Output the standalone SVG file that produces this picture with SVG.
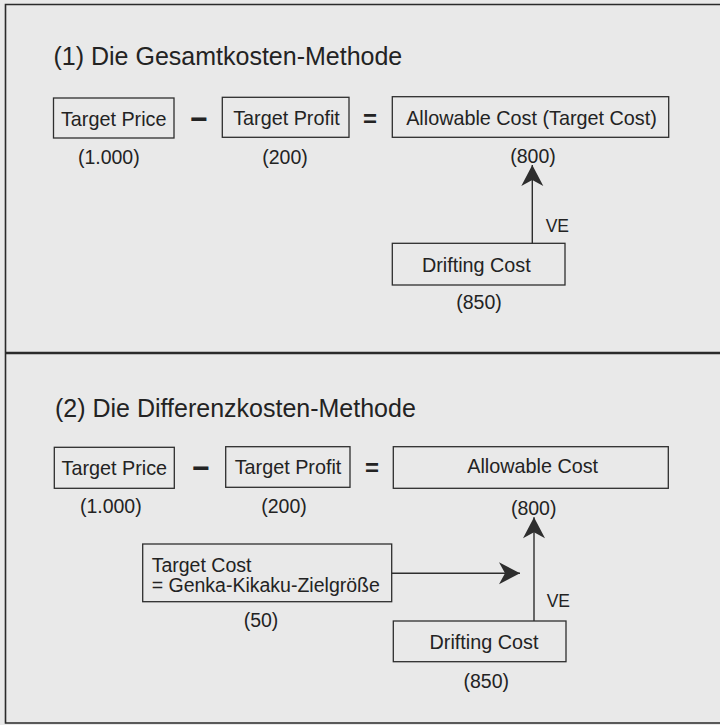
<svg xmlns="http://www.w3.org/2000/svg" width="720" height="725" viewBox="0 0 720 725">
<style>
  .bg { fill: #e9e9e9; }
  .frame { fill: none; stroke: #2a2a2a; stroke-width: 1.6; }
  .box { fill: none; stroke: #2e2e2e; stroke-width: 1.3; }
  .t { font-family: "Liberation Sans", Arial, sans-serif; fill: #232323; }
  .title { font-size: 25px; }
  .lbl { font-size: 19.8px; text-anchor: middle; }
  .lbl2 { font-size: 19.5px; }
  .num { font-size: 19.5px; text-anchor: middle; }
  .op { font-size: 24px; text-anchor: middle; font-weight: bold; }
  .minus { font-size: 30px; text-anchor: middle; font-weight: bold; }
  .ve { font-size: 17.5px; }
  .conn { fill: none; stroke: #2e2e2e; stroke-width: 1.4; }
</style>
<defs>
  <marker id="arrow" markerUnits="userSpaceOnUse" markerWidth="24" markerHeight="26" viewBox="-22 -13 24 26" refX="0" refY="0" orient="auto">
    <path d="M0,0 L-21,-11 L-15,0 L-21,11 Z" fill="#2e2e2e"/>
  </marker>
</defs>
<rect class="bg" x="0" y="0" width="720" height="725"/>
<g id="frame">
  <path class="frame" d="M724,4.5 H5.5 V723 H724"/>
  <line x1="5.5" y1="353" x2="724" y2="353" stroke="#2a2a2a" stroke-width="2.5"/>
</g>

<!-- Panel 1 -->
<g id="title1"><text class="t title" x="53.5" y="65">(1) Die Gesamtkosten-Methode</text></g>
<g id="p1-target-price">
  <rect class="box" x="53.5" y="98" width="120.5" height="40"/>
  <text class="t lbl" x="113.7" y="125.5">Target Price</text>
  <text class="t num" x="108.8" y="164">(1.000)</text>
</g>
<g id="p1-minus"><text class="t minus" x="199" y="129">−</text></g>
<g id="p1-target-profit">
  <rect class="box" x="222.3" y="97.3" width="126.7" height="40"/>
  <text class="t lbl" x="286.5" y="125">Target Profit</text>
  <text class="t num" x="285" y="164">(200)</text>
</g>
<g id="p1-equals"><text class="t op" x="370" y="126.5">=</text></g>
<g id="p1-allowable">
  <rect class="box" x="392.3" y="96.7" width="276.4" height="40.6"/>
  <text class="t lbl" x="531.5" y="125">Allowable Cost (Target Cost)</text>
  <text class="t num" x="533" y="163">(800)</text>
</g>
<g id="p1-drifting">
  <rect class="box" x="392.3" y="243.3" width="172.7" height="41.7"/>
  <text class="t lbl" x="476.3" y="271.5">Drifting Cost</text>
  <text class="t num" x="479" y="309">(850)</text>
</g>

<!-- Panel 2 -->
<g id="title2"><text class="t title" x="55" y="417">(2) Die Differenzkosten-Methode</text></g>
<g id="p2-target-price">
  <rect class="box" x="54.3" y="447.3" width="120" height="41"/>
  <text class="t lbl" x="114.3" y="475">Target Price</text>
  <text class="t num" x="110.8" y="513">(1.000)</text>
</g>
<g id="p2-minus"><text class="t minus" x="201" y="477.5">−</text></g>
<g id="p2-target-profit">
  <rect class="box" x="225.7" y="446.7" width="124.3" height="40.6"/>
  <text class="t lbl" x="288" y="474">Target Profit</text>
  <text class="t num" x="284" y="513">(200)</text>
</g>
<g id="p2-equals"><text class="t op" x="372" y="476">=</text></g>
<g id="p2-allowable">
  <rect class="box" x="393.3" y="446.7" width="275" height="41.6"/>
  <text class="t lbl" x="532.7" y="473.3">Allowable Cost</text>
  <text class="t num" x="533.7" y="515">(800)</text>
</g>
<g id="p2-target-cost">
  <rect class="box" x="142.7" y="544" width="249" height="57.7"/>
  <text class="t lbl2" x="151.7" y="571.7">Target Cost</text>
  <text class="t lbl2" x="151.7" y="592.3">= Genka-Kikaku-Zielgröße</text>
  <text class="t num" x="261" y="627">(50)</text>
</g>
<g id="p2-drifting">
  <rect class="box" x="393.3" y="621" width="172.7" height="40.7"/>
  <text class="t lbl" x="484" y="649">Drifting Cost</text>
  <text class="t num" x="486.3" y="688">(850)</text>
</g>

<g id="connectors">
  <line class="conn" x1="532.3" y1="243.3" x2="532.3" y2="165" marker-end="url(#arrow)"/>
  <text class="t ve" x="545.7" y="231.5">VE</text>
  <line class="conn" x1="534" y1="621" x2="534" y2="517.3" marker-end="url(#arrow)"/>
  <text class="t ve" x="546.7" y="606.7">VE</text>
  <line class="conn" x1="391.7" y1="573.3" x2="520" y2="573.3" marker-end="url(#arrow)"/>
</g>
</svg>
